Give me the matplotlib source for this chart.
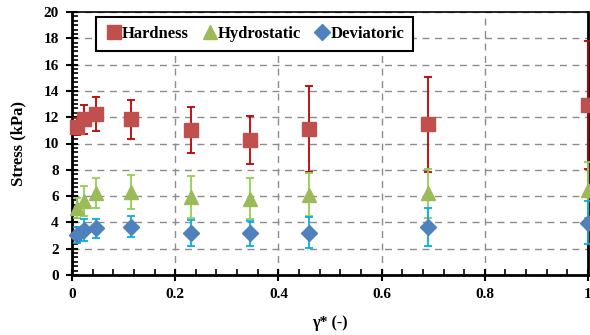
import matplotlib
matplotlib.use("Agg")
import matplotlib.pyplot as plt
from matplotlib.ticker import MultipleLocator, FuncFormatter

plt.rcParams['font.family'] = ['Liberation Serif', 'DejaVu Serif']
plt.rcParams['font.weight'] = 'bold'

gamma = [0.01, 0.023, 0.046, 0.115, 0.23, 0.345, 0.46, 0.69, 1.0]

hardness = [11.28, 11.84, 12.22, 11.84, 11.0, 10.27, 11.1, 11.46, 12.93]
hardness_err = [0.65, 1.12, 1.3, 1.5, 1.75, 1.82, 3.3, 3.6, 4.9]

hydrostatic = [5.1, 5.65, 6.21, 6.34, 5.95, 5.8, 6.12, 6.21, 6.46]
hydrostatic_err = [0.75, 1.15, 1.15, 1.3, 1.6, 1.55, 1.6, 1.85, 2.1]

deviatoric = [3.04, 3.42, 3.55, 3.67, 3.22, 3.17, 3.22, 3.63, 3.98]
deviatoric_err = [0.6, 0.85, 0.7, 0.8, 1.0, 0.95, 1.2, 1.45, 1.65]

fig = plt.figure(figsize=(5.9, 3.35), dpi=100)
ax = fig.add_axes([72/590, 1-275/335, 516/590, 263/335])

series = [
    ("Hardness", hardness, hardness_err, 's', '#C0504D', '#C00000', 9.5),
    ("Hydrostatic", hydrostatic, hydrostatic_err, '^', '#9BBB59', '#92D050', 10.5),
    ("Deviatoric", deviatoric, deviatoric_err, 'D', '#4F81BD', '#00B0F0', 8),
]
z = 3
for name, vals, errs, mk, fc, ec, ms in series:
    ax.errorbar(gamma, vals, yerr=errs, fmt='none', ecolor=ec, elinewidth=1.3,
                capsize=3, capthick=1.3, zorder=z, clip_on=False)
    ax.plot(gamma, vals, linestyle='none', marker=mk, markersize=ms,
            markerfacecolor=fc, markeredgecolor=fc, label=name, zorder=z+0.5,
            clip_on=False)
    z += 1

ax.set_xlim(0, 1)
ax.set_ylim(0, 20)
ax.xaxis.set_major_locator(MultipleLocator(0.2))
ax.xaxis.set_minor_locator(MultipleLocator(0.04))
ax.yaxis.set_major_locator(MultipleLocator(2))
ax.yaxis.set_minor_locator(MultipleLocator(2/6))
ax.xaxis.set_major_formatter(FuncFormatter(lambda v, p: '0' if abs(v) < 1e-9 else ('1' if abs(v-1) < 1e-9 else f'{v:.1f}')))

ax.grid(True, which='major', color='#8c8c8c', linestyle=(0, (5, 4)), linewidth=1.0)
ax.set_axisbelow(True)

ax.tick_params(axis='both', which='major', direction='inout', length=9, width=1.5,
               labelsize=11, pad=5)
ax.tick_params(axis='both', which='minor', direction='in', length=4, width=1.2)
ax.tick_params(top=False, right=False, which='both')
for lbl in ax.get_xticklabels() + ax.get_yticklabels():
    lbl.set_fontweight('bold')

for s in ['left', 'bottom', 'right']:
    ax.spines[s].set_linewidth(2)
ax.spines['top'].set_linewidth(1.2)

ax.set_xlabel('γ* (-)', fontsize=11.5, fontweight='bold', labelpad=10)
ax.set_ylabel('Stress (kPa)', fontsize=12, fontweight='bold', labelpad=12)

leg = ax.legend(loc='upper left', bbox_to_anchor=(24/516, 1-5/263), ncol=3,
                frameon=True, fancybox=False, edgecolor='black', framealpha=1,
                prop={'weight': 'bold', 'size': 12}, handlelength=1.0,
                handletextpad=0.0, columnspacing=0.75, borderpad=0.55,
                borderaxespad=0)
leg.get_frame().set_linewidth(1.5)
leg.set_zorder(10)

fig.savefig('out.png', dpi=100)
